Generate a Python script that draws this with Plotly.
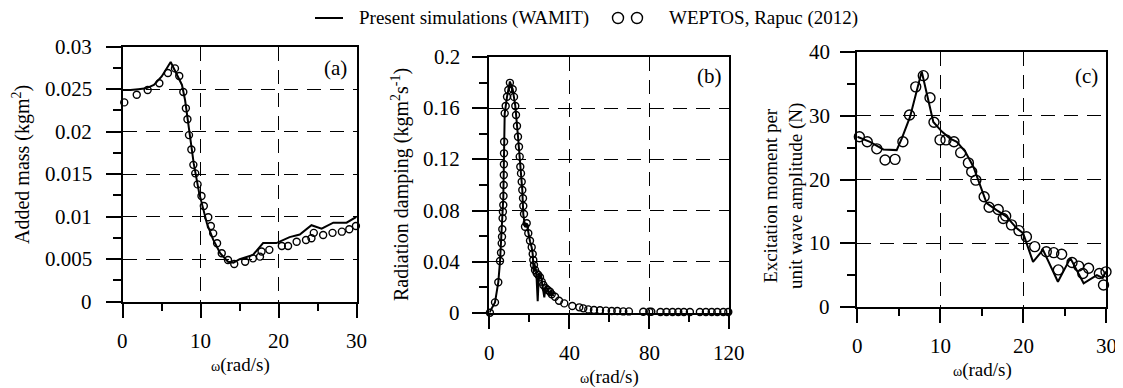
import plotly.graph_objects as go

# page body has an 8px default margin: the figure is sized to fill the rest of the window
OFF = 8
W, H = 1123 - OFF, 388 - OFF
FONT = "Liberation Serif"

# ---------------- data ----------------
# (a) Added mass
a_wamit_w = [0, 1, 2, 3, 4, 5, 6.15, 7, 7.6, 8.0, 8.6, 9.1, 9.8, 10.8, 11.6, 12.5, 13.5, 14.2, 15.0,
             16.7, 18.0, 19.7, 21.4, 22.7, 24.2, 25.5, 27.0, 28.7, 30]
a_wamit_v = [0.0249, 0.0249, 0.0250, 0.0251, 0.0255, 0.0265, 0.0282, 0.0266, 0.0255, 0.0237, 0.0198,
             0.0163, 0.0128, 0.0092, 0.0073, 0.0057, 0.0047, 0.0046, 0.0050, 0.0055, 0.0069, 0.0069,
             0.0076, 0.0079, 0.0090, 0.0086, 0.0093, 0.0093, 0.0100]
a_wep_w = [0.2, 1.8, 3.2, 4.7, 5.8, 6.7, 7.25, 7.77, 8.1, 8.3, 8.5, 8.8, 9.06, 9.3, 9.6, 10.1, 10.4,
           10.97, 11.3, 11.6, 12.1, 12.7, 13.5, 14.3, 15.7, 16.7, 17.6, 17.8, 18.8, 20.4, 21.2, 22.3,
           23.5, 24.2, 24.5, 25.7, 26.9, 28.1, 29.05, 29.9]
a_wep_v = [0.02345, 0.02435, 0.0249, 0.0257, 0.0269, 0.02745, 0.02655, 0.02467, 0.02275, 0.02146,
           0.0196, 0.0179, 0.0161, 0.0151, 0.0138, 0.01244, 0.01126, 0.00993, 0.0089, 0.00804,
           0.00687, 0.0057, 0.0049, 0.00444, 0.0047, 0.0051, 0.0053, 0.0059, 0.0061, 0.00655,
           0.00655, 0.00706, 0.00726, 0.00746, 0.0081, 0.00785, 0.0081, 0.00824, 0.00852, 0.0089]

# (b) Radiation damping
b_wamit_w = [0, 2.85, 4.5, 5.35, 7.0, 7.7, 8.85, 9.5, 10.3, 11.7, 13.0, 14.35, 15.5, 16.5, 17.0,
             17.9, 18.7, 19.5, 20.35, 21.2, 21.7, 22.2, 22.6, 23.5, 24.2, 24.8, 26.0, 27.5, 28.2,
             29.2, 30.3, 31.0, 32.0]
b_wamit_v = [0, 0.008, 0.024, 0.040, 0.090, 0.156, 0.169, 0.174, 0.181, 0.175, 0.162, 0.138, 0.114,
             0.096, 0.077, 0.067, 0.070, 0.062, 0.056, 0.051, 0.046, 0.032, 0.038, 0.032, 0.009,
             0.031, 0.027, 0.012, 0.021, 0.018, 0.013, 0.017, 0.013]
b_wep_w = [0.3, 2.85, 4.5, 5.35, 5.85, 6.2, 6.35, 6.5, 6.65, 6.8, 7.0, 7.1, 7.2, 7.25, 7.3, 7.35, 7.4,
           7.7, 8.2, 8.85, 9.5, 10.3, 11.7, 12.35, 13.0, 13.35, 13.85, 14.35, 14.85, 15.2, 15.5,
           15.85, 16.2, 16.5, 16.85, 17.0, 17.35, 17.85, 18.7, 19.5, 20.35, 21.2, 21.7, 22.0, 22.35,
           22.85, 23.7, 24.5, 25.35, 26.2, 27.0, 28.2, 29.2, 30.35, 31.2, 32.85, 34.85, 37.5, 41.5,
           45.0, 47.0, 49.5, 52.35, 55.35, 58.35, 61.2, 64.0, 67.0, 69.8, 77.0, 80.0, 81.0, 85.6,
           88.6, 91.6, 94.5, 97.3, 100.3, 105.3, 108.3, 111.2, 114.0, 117.0, 119.5]
b_wep_v = [0, 0.0081, 0.0238, 0.0405, 0.047, 0.0543, 0.0595, 0.0653, 0.0739, 0.0791, 0.0843, 0.0914,
           0.100, 0.1078, 0.1162, 0.1248, 0.1339, 0.1561, 0.1619, 0.1691, 0.1744, 0.1800, 0.175,
           0.169, 0.1619, 0.1548, 0.1462, 0.1378, 0.130, 0.1222, 0.1143, 0.1091, 0.1026, 0.0961,
           0.0896, 0.0836, 0.0773, 0.0673, 0.070, 0.0622, 0.0564, 0.0512, 0.046, 0.0413, 0.0374,
           0.0335, 0.0308, 0.0295, 0.0277, 0.0243, 0.0217, 0.0191, 0.0178, 0.0164, 0.0144, 0.0125,
           0.0094, 0.0073, 0.0052, 0.0042, 0.0034, 0.0026, 0.0021, 0.0019, 0.0016, 0.0013, 0.0013,
           0.0010, 0.0010, 0.0008, 0.0008, 0.0007, 0.0005, 0.0005, 0.0005, 0.0005, 0.0005, 0.0005,
           0.0005, 0.0005, 0.0005, 0.0005, 0.0005, 0.0005]

# (c) Excitation moment
c_wamit_w = [0, 1.53, 3.14, 4.75, 5.36, 6.36, 7.77, 9.17, 10.2, 11.2, 12.0, 13.0, 14.0, 15.2, 15.6,
             16.8, 18.0, 19.2, 20.0, 21.2, 22.4, 24.2, 25.7, 27.3, 28.9, 29.6, 30.0]
c_wamit_v = [26.7, 25.9, 24.7, 24.6, 26.4, 29.8, 36.9, 29.0, 27.5, 26.4, 25.9, 24.4, 22.0, 17.8, 16.3,
             15.2, 14.2, 12.4, 11.6, 7.1, 9.0, 4.0, 7.7, 3.75, 5.05, 4.6, 5.6]
c_wep_w = [0.25, 1.2, 2.35, 3.35, 4.55, 5.5, 6.3, 7.05, 7.96, 8.77, 9.25, 9.98, 10.7, 11.66, 12.47,
           13.4, 13.8, 14.3, 15.3, 15.9, 17.0, 17.6, 17.9, 18.6, 19.5, 20.4, 21.4, 22.8, 23.7, 24.65,
           24.25, 25.9, 26.7, 27.2, 27.9, 29.2, 29.7, 30.0]
c_wep_v = [26.7, 25.9, 24.8, 23.05, 23.15, 25.9, 30.1, 34.5, 36.25, 32.8, 28.95, 26.2, 26.2, 25.9,
           24.2, 22.6, 21.2, 19.9, 17.3, 15.65, 15.3, 13.9, 14.3, 12.9, 12.0, 11.05, 9.5, 8.7, 8.55,
           8.3, 5.85, 7.0, 6.45, 5.3, 6.1, 5.3, 3.5, 5.55]

a_yticks = [0, 0.005, 0.01, 0.015, 0.02, 0.025, 0.03]
a_yticktext = ["0", "0.005", "0.01", "0.015", "0.02", "0.025", "0.03"]
b_yticks = [0, 0.04, 0.08, 0.12, 0.16, 0.2]
b_yticktext = ["0", "0.04", "0.08", "0.12", "0.16", "0.2"]
c_yticks = [0, 10, 20, 30, 40]
c_yticktext = ["0", "10", "20", "30", "40"]
a_xticks = [0, 10, 20, 30]
a_xticktext = ["0", "10", "20", "30"]
b_xticks = [0, 40, 80, 120]
b_xticktext = ["0", "40", "80", "120"]
c_xticks = [0, 10, 20, 30]
c_xticktext = ["0", "10", "20", "30"]

# ---------------- layout helpers (positions given in window pixels) ----------------
def px_x(p):
    return (p - OFF) / W

def px_y(p):
    return 1 - (p - OFF) / H

panels = {
    "a": dict(x=(122.7, 356.7), y=(46.7, 301.7)),
    "b": dict(x=(489.3, 729.3), y=(57.3, 312.7)),
    "c": dict(x=(857.3, 1106.0), y=(51.7, 307.3)),
}

def axis_common():
    return dict(
        showline=True, linecolor="black", linewidth=2, mirror=True,
        ticks="outside", tickcolor="black", tickwidth=1.5,
        showgrid=True, gridcolor="black", gridwidth=1.3, griddash="14px,9px",
        zeroline=False, showticklabels=False,
    )

fig = go.Figure()

line_style = dict(color="black", width=2)

def add_panel(idx, ww, wv, ew, ev, msize):
    xa = "x" if idx == 1 else f"x{idx}"
    ya = "y" if idx == 1 else f"y{idx}"
    fig.add_trace(go.Scatter(x=ww, y=wv, mode="lines", line=line_style, xaxis=xa, yaxis=ya,
                             showlegend=False))
    fig.add_trace(go.Scatter(x=ew, y=ev, mode="markers", xaxis=xa, yaxis=ya, showlegend=False,
                             cliponaxis=False,
                             marker=dict(symbol="circle-open", size=msize, color="black",
                                         line=dict(width=1.4, color="black"))))

add_panel(1, a_wamit_w, a_wamit_v, a_wep_w, a_wep_v, 7)
add_panel(2, b_wamit_w, b_wamit_v, b_wep_w, b_wep_v, 7)
add_panel(3, c_wamit_w, c_wamit_v, c_wep_w, c_wep_v, 10)

def xdom(k):
    p = panels[k]["x"]
    return [px_x(p[0]), px_x(p[1])]

def ydom(k):
    p = panels[k]["y"]
    return [px_y(p[1]), px_y(p[0])]

layout = dict(
    width=W, height=H, margin=dict(l=0, r=0, t=0, b=0),
    paper_bgcolor="white", plot_bgcolor="white", showlegend=False,
    font=dict(family=FONT, color="black"),
)

def minor(d, ln):
    return dict(dtick=d, tick0=0, ticks="outside", ticklen=ln, tickwidth=1.5,
                tickcolor="black", showgrid=False)

xa1 = axis_common(); xa1.update(domain=xdom("a"), range=[0, 30], tickvals=a_xticks, anchor="y",
                                ticklen=14, minor=minor(5, 7))
ya1 = axis_common(); ya1.update(domain=ydom("a"), range=[0, 0.03], tickvals=a_yticks,
                                anchor="x", ticklen=15, minor=minor(0.0025, 8))
xa2 = axis_common(); xa2.update(domain=xdom("b"), range=[0, 120], tickvals=b_xticks, anchor="y2",
                                ticklen=14, minor=minor(20, 7))
ya2 = axis_common(); ya2.update(domain=ydom("b"), range=[0, 0.2], tickvals=b_yticks,
                                anchor="x2", ticklen=15, minor=minor(0.02, 8))
xa3 = axis_common(); xa3.update(domain=xdom("c"), range=[0, 30], tickvals=c_xticks, anchor="y3",
                                ticklen=14, minor=minor(5, 7))
ya3 = axis_common(); ya3.update(domain=ydom("c"), range=[0, 40], tickvals=c_yticks,
                                anchor="x3", ticklen=15, minor=minor(5, 8))

layout.update(xaxis=xa1, yaxis=ya1, xaxis2=xa2, yaxis2=ya2, xaxis3=xa3, yaxis3=ya3)
fig.update_layout(**layout)

def ann(text, x, y, size=18, angle=0, xanchor="center"):
    fig.add_annotation(text=text, x=px_x(x), y=px_y(y), xref="paper", yref="paper",
                       showarrow=False, textangle=angle, xanchor=xanchor, yanchor="middle",
                       font=dict(family=FONT, size=size, color="black"), align="center")

# tick labels as text placed through the axes' scales
TICK_SIZE = 21
def xtick_labels(xref, vals, texts, ypx):
    for v, t in zip(vals, texts):
        fig.add_annotation(text=t, x=v, xref=xref, y=px_y(ypx), yref="paper", showarrow=False,
                           xanchor="center", yanchor="middle",
                           font=dict(family=FONT, size=TICK_SIZE, color="black"))

def ytick_labels(yref, vals, texts, xpx):
    for v, t in zip(vals, texts):
        fig.add_annotation(text=t, y=v, yref=yref, x=px_x(xpx), xref="paper", showarrow=False,
                           xanchor="right", yanchor="middle", xshift=2,
                           font=dict(family=FONT, size=TICK_SIZE, color="black"))

xtick_labels("x", a_xticks, a_xticktext, 341)
xtick_labels("x2", b_xticks, b_xticktext, 353)
xtick_labels("x3", c_xticks, c_xticktext, 346)
ytick_labels("y", a_yticks, a_yticktext, 92)
ytick_labels("y2", b_yticks, b_yticktext, 460)
ytick_labels("y3", c_yticks, c_yticktext, 830)

# axis titles
ann("Added mass (kgm<sup>2</sup>)", 21, 165, size=20, angle=-90)
ann("Radiation damping (kgm<sup>2</sup>s<sup>-1</sup>)", 400, 185, size=20, angle=-90)
ann("Excitation moment per<br>unit wave amplitude (N)", 783, 196, size=19, angle=-90)
omega = "<span style='font-size:14px'>ω</span>(rad/s)"
ann(omega, 240, 365, size=19)
ann(omega, 609, 377, size=19)
ann(omega, 982, 370, size=19)

# panel labels
ann("(a)", 335.5, 68, size=21)
ann("(b)", 709.5, 76, size=21)
ann("(c)", 1086, 76, size=21)

# legend
fig.add_shape(type="line", xref="paper", yref="paper", x0=px_x(315), x1=px_x(343),
              y0=px_y(18), y1=px_y(18), line=dict(color="black", width=2))
for cx in (618, 637):
    fig.add_shape(type="circle", xref="paper", yref="paper", x0=px_x(cx - 5.5), x1=px_x(cx + 5.5),
                  y0=px_y(23.5), y1=px_y(12.5), line=dict(color="black", width=1.4))
ann("Present simulations (WAMIT)", 357, 18, size=19, xanchor="left")
ann("WEPTOS, Rapuc (2012)", 667, 18, size=19, xanchor="left")

fig.write_html("out.html")
